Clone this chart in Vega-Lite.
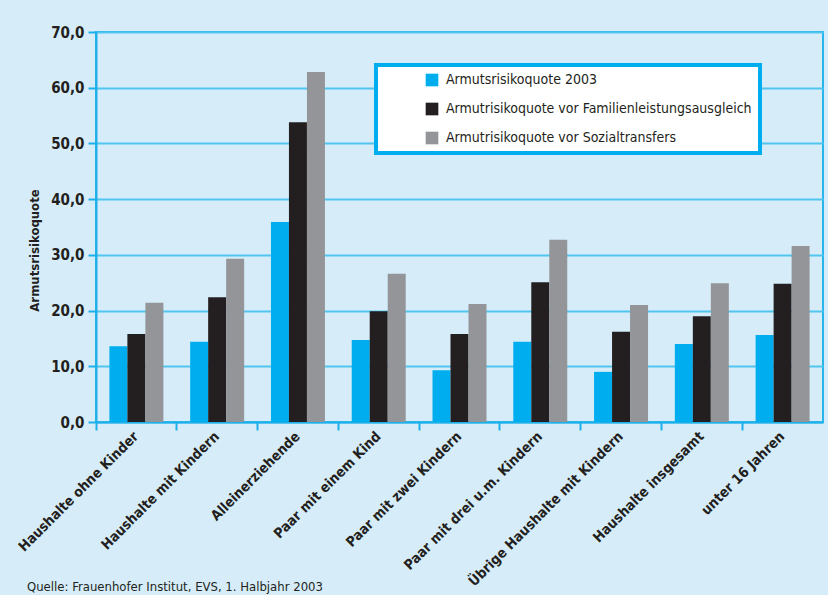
{
  "$schema": "https://vega.github.io/schema/vega-lite/v6.json",
  "autosize": "none",
  "width": 727,
  "height": 390,
  "padding": {"left": 96, "top": 32, "right": 5, "bottom": 173},
  "background": "#D6EDF9",
  "config": {
    "font": "DejaVu Sans Condensed, Liberation Sans, sans-serif",
    "view": {"stroke": "#29B5EA", "strokeWidth": 2}
  },
  "title": {
    "text": "Quelle: Frauenhofer Institut, EVS, 1. Halbjahr 2003",
    "orient": "bottom",
    "anchor": "start",
    "frame": "bounds",
    "font": "DejaVu Sans Condensed, Liberation Sans, sans-serif",
    "fontSize": 13,
    "fontWeight": "normal",
    "color": "#231F20",
    "baseline": "top",
    "offset": -8,
    "dx": 11
  },
  "data": {
    "values": [
      {"kategorie": "Haushalte ohne Kinder", "reihe": "Armutsrisikoquote 2003", "wert": 13.6},
      {"kategorie": "Haushalte ohne Kinder", "reihe": "Armutrisikoquote vor Familienleistungsausgleich", "wert": 15.8},
      {"kategorie": "Haushalte ohne Kinder", "reihe": "Armutrisikoquote vor Sozialtransfers", "wert": 21.4},
      {"kategorie": "Haushalte mit Kindern", "reihe": "Armutsrisikoquote 2003", "wert": 14.4},
      {"kategorie": "Haushalte mit Kindern", "reihe": "Armutrisikoquote vor Familienleistungsausgleich", "wert": 22.4},
      {"kategorie": "Haushalte mit Kindern", "reihe": "Armutrisikoquote vor Sozialtransfers", "wert": 29.3},
      {"kategorie": "Alleinerziehende", "reihe": "Armutsrisikoquote 2003", "wert": 35.9},
      {"kategorie": "Alleinerziehende", "reihe": "Armutrisikoquote vor Familienleistungsausgleich", "wert": 53.8},
      {"kategorie": "Alleinerziehende", "reihe": "Armutrisikoquote vor Sozialtransfers", "wert": 62.8},
      {"kategorie": "Paar mit einem Kind", "reihe": "Armutsrisikoquote 2003", "wert": 14.7},
      {"kategorie": "Paar mit einem Kind", "reihe": "Armutrisikoquote vor Familienleistungsausgleich", "wert": 19.9},
      {"kategorie": "Paar mit einem Kind", "reihe": "Armutrisikoquote vor Sozialtransfers", "wert": 26.6},
      {"kategorie": "Paar mit zwei Kindern", "reihe": "Armutsrisikoquote 2003", "wert": 9.3},
      {"kategorie": "Paar mit zwei Kindern", "reihe": "Armutrisikoquote vor Familienleistungsausgleich", "wert": 15.8},
      {"kategorie": "Paar mit zwei Kindern", "reihe": "Armutrisikoquote vor Sozialtransfers", "wert": 21.2},
      {"kategorie": "Paar mit drei u.m. Kindern", "reihe": "Armutsrisikoquote 2003", "wert": 14.4},
      {"kategorie": "Paar mit drei u.m. Kindern", "reihe": "Armutrisikoquote vor Familienleistungsausgleich", "wert": 25.1},
      {"kategorie": "Paar mit drei u.m. Kindern", "reihe": "Armutrisikoquote vor Sozialtransfers", "wert": 32.7},
      {"kategorie": "Übrige Haushalte mit Kindern", "reihe": "Armutsrisikoquote 2003", "wert": 9.0},
      {"kategorie": "Übrige Haushalte mit Kindern", "reihe": "Armutrisikoquote vor Familienleistungsausgleich", "wert": 16.2},
      {"kategorie": "Übrige Haushalte mit Kindern", "reihe": "Armutrisikoquote vor Sozialtransfers", "wert": 21.0},
      {"kategorie": "Haushalte insgesamt", "reihe": "Armutsrisikoquote 2003", "wert": 14.0},
      {"kategorie": "Haushalte insgesamt", "reihe": "Armutrisikoquote vor Familienleistungsausgleich", "wert": 19.0},
      {"kategorie": "Haushalte insgesamt", "reihe": "Armutrisikoquote vor Sozialtransfers", "wert": 24.9},
      {"kategorie": "unter 16 Jahren", "reihe": "Armutsrisikoquote 2003", "wert": 15.6},
      {"kategorie": "unter 16 Jahren", "reihe": "Armutrisikoquote vor Familienleistungsausgleich", "wert": 24.8},
      {"kategorie": "unter 16 Jahren", "reihe": "Armutrisikoquote vor Sozialtransfers", "wert": 31.6}
    ]
  },
  "mark": {"type": "bar"},
  "encoding": {
    "x": {
      "field": "kategorie",
      "type": "nominal",
      "sort": null,
      "scale": {"paddingInner": 0, "paddingOuter": 0},
      "axis": {
        "title": null,
        "bandPosition": 0,
        "labelAngle": -45,
        "labelAlign": "right",
        "labelBaseline": "middle",
        "labelFontSize": 14,
        "labelFontWeight": "bold",
        "labelColor": "#231F20",
        "labelPadding": 4,
        "labelLimit": 300,
        "domainColor": "#1DB0EA",
        "domainWidth": 2,
        "tickColor": "#1DB0EA",
        "tickWidth": 2,
        "tickSize": 8,
        "grid": false
      }
    },
    "xOffset": {
      "field": "reihe",
      "type": "nominal",
      "sort": null,
      "scale": {
        "domain": ["Armutsrisikoquote 2003", "Armutrisikoquote vor Familienleistungsausgleich", "Armutrisikoquote vor Sozialtransfers"],
        "paddingInner": 0,
        "paddingOuter": 0.744
      }
    },
    "y": {
      "field": "wert",
      "type": "quantitative",
      "scale": {"domain": [0, 70], "nice": false},
      "axis": {
        "title": "Armutsrisikoquote",
        "titleFontSize": 13,
        "titleFontWeight": "bold",
        "titleColor": "#231F20",
        "titleAngle": -90,
        "titleX": -62,
        "titleY": 218,
        "titleAlign": "center",
        "titleBaseline": "middle",
        "values": [0, 10, 20, 30, 40, 50, 60, 70],
        "labelExpr": "replace(format(datum.value, '.1f'), '.', ',')",
        "labelFontSize": 15,
        "labelFontWeight": "bold",
        "labelColor": "#231F20",
        "labelPadding": 4,
        "domainColor": "#1DB0EA",
        "domainWidth": 2,
        "tickColor": "#1DB0EA",
        "tickWidth": 2,
        "tickSize": 8,
        "grid": true,
        "gridColor": "#4FC5EF",
        "gridWidth": 2
      }
    },
    "color": {
      "field": "reihe",
      "type": "nominal",
      "scale": {
        "domain": ["Armutsrisikoquote 2003", "Armutrisikoquote vor Familienleistungsausgleich", "Armutrisikoquote vor Sozialtransfers"],
        "range": ["#00AEEF", "#231F20", "#939598"]
      },
      "legend": {
        "title": null,
        "orient": "none",
        "legendX": 280,
        "legendY": 33,
        "fillColor": "#FFFFFF",
        "strokeColor": "#00AEEF",
        "padding": 8,
        "symbolType": "square",
        "symbolSize": 160,
        "symbolStrokeWidth": 0,
        "symbolOffset": 41,
        "labelFontSize": 14,
        "labelColor": "#231F20",
        "labelOffset": 7,
        "labelLimit": 400,
        "rowPadding": 15,
        "encode": {
          "legend": {"update": {"strokeWidth": {"value": 4}}}
        }
      }
    }
  }
}
